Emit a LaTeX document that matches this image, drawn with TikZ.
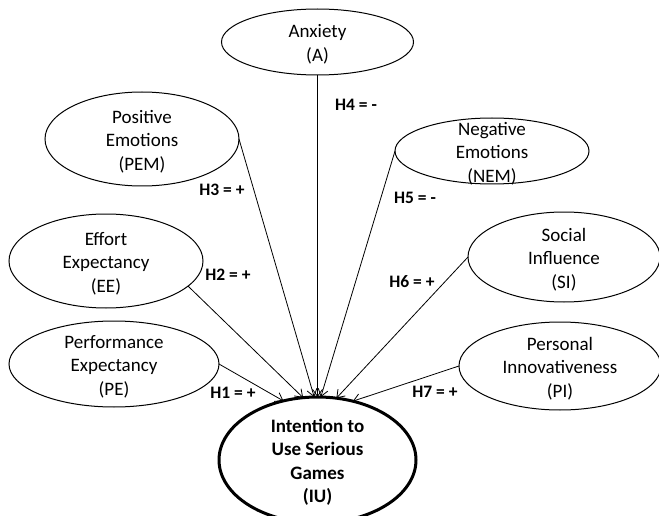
\documentclass[tikz,border=0pt]{standalone}
\usepackage{fontspec}
\setmainfont{Carlito}
\usetikzlibrary{shapes.geometric,arrows.meta}
\newcommand\ctr[1]{\hbox to 0pt{\hss\vbox to 0pt{\vss\kern6pt\hbox{\begin{tabular}{@{}c@{}}#1\end{tabular}}\vss}\hss}}
\tikzset{
  ell/.style={ellipse, draw, line width=1pt, inner sep=0pt, outer sep=0pt,
    font=\fontsize{19}{23.5}\selectfont},
  hyp/.style={font=\bfseries\fontsize{17.5}{21}\selectfont, inner sep=0pt},
  link/.style={line width=0.8pt, -{Straight Barb[length=7pt,width=10pt]}},
}
\begin{document}
\begin{tikzpicture}[x=1pt,y=-1pt]
\useasboundingbox (0,0) rectangle (659,516);
\fill[white] (0,0) rectangle (659,516);

\node[ell, minimum width=192pt, minimum height=66pt] (A) at (317.5,42) {\ctr{Anxiety\\(A)}};
\node[ell, minimum width=194pt, minimum height=94pt] (PEM) at (142,139) {\ctr{Positive\\Emotions\\(PEM)}};
\node[ell, minimum width=194pt, minimum height=94pt] (EE) at (106,261) {\ctr{Effort\\Expectancy\\(EE)}};
\node[ell, minimum width=210pt, minimum height=86pt] (PE) at (114,364) {\ctr{Performance\\Expectancy\\(PE)}};
\node[ell, minimum width=194pt, minimum height=66pt] (NEM) at (492,151) {\ctr{Negative\\Emotions\\(NEM)}};
\node[ell, minimum width=192pt, minimum height=90pt] (SI) at (564,257) {\ctr{Social\\Influence\\(SI)}};
\node[ell, minimum width=202pt, minimum height=88pt] (PI) at (560,366) {\ctr{Personal\\Innovativeness\\(PI)}};
\node[ell, line width=3pt, minimum width=197pt, minimum height=126pt,
  font=\bfseries\fontsize{19}{23.5}\selectfont] (IU) at (317.5,460)
  {\ctr{Intention to\\Use Serious\\Games\\(IU)}};

\draw[link] (A) -- (IU.90);
\draw[link] (PEM.east) -- (IU.93);
\draw[link] (NEM.west) -- (IU.87);
\draw[link] (EE.-17) -- (IU.103);
\draw[link] (PE.east) -- (IU.120);
\draw[link] (SI.west) -- (IU.73);
\draw[link] (PI.west) -- (IU.59);

\node[hyp] (h4) at (356,105) {H4 = -};
\node[hyp] (h3) at (222,190) {H3 = +};
\node[hyp] (h2) at (228,275) {H2 = +};
\node[hyp] (h5) at (415,198) {H5 = -};
\node[hyp] (h6) at (412,282) {H6 = +};
\node[hyp] (h1) at (233,393) {H1 = +};
\node[hyp] (h7) at (435,392) {H7 = +};
\end{tikzpicture}
\end{document}
